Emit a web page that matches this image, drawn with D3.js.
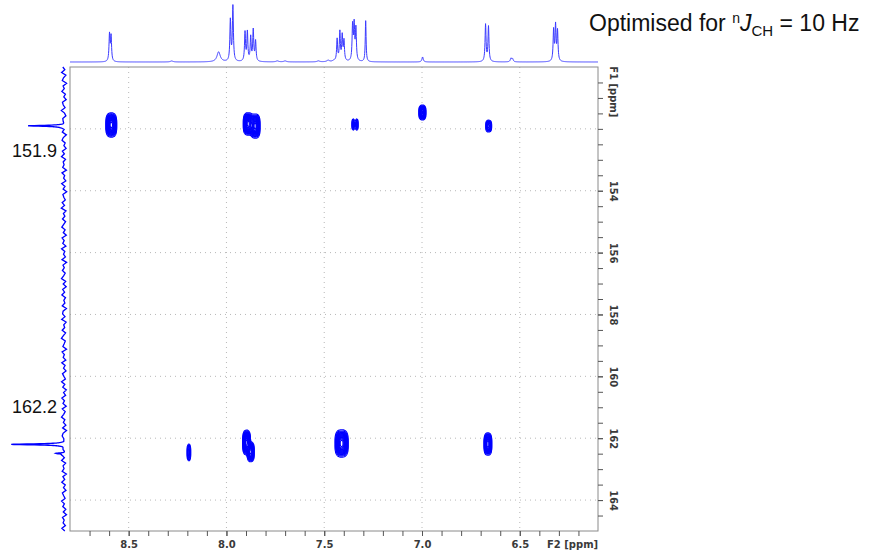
<!DOCTYPE html>
<html lang="en">
<head>
<meta charset="UTF-8">
<title>HMBC 2D spectrum</title>
<script src="https://d3js.org/d3.v7.min.js"></script>
<style>
    body { margin: 0; background: #fff; }
    .frame { fill: none; stroke: #8a8a8a; stroke-width: 1; }
    .grid line { stroke: #b8b8b8; stroke-dasharray: 1,4; }
    .axis text { font-family: "DejaVu Sans", sans-serif; font-size: 10px; font-weight: bold; fill: #3a3a3a; }
    .axis line { stroke: #555; }
    .axis path { display: none; }
    .label { font-family: "Liberation Sans", Arial, sans-serif; fill: #111; }
    .proj { fill: none; stroke: #3a3aff; stroke-width: 1; }
    .proj-f1 { fill: none; stroke: #0000ff; stroke-width: 1.3; }
    .cont { fill: none; stroke: #0000ff; stroke-width: 1.1; }
</style>
</head>
<body>
<svg id="chart" width="872" height="555"></svg>
<script>
    // axis ranges (ppm)
    const f2Range = [8.8, 6.1];
    const f1Range = [150, 165];
    const f2Labels = [8.5, 8.0, 7.5, 7.0, 6.5];
    const f1Labels = [154, 156, 158, 160, 162, 164];
    const f1Grid = [152, 154, 156, 158, 160, 162, 164];

    // 1H projection (top): shift, height, line width
    const hShift  = [8.598, 8.590, 8.28, 8.04, 7.980, 7.967, 7.905, 7.893, 7.876, 7.863, 7.851, 7.74, 7.70, 7.53, 7.48, 7.45,
                     7.434, 7.420, 7.408, 7.399, 7.355, 7.347, 7.338, 7.288, 6.997, 6.675, 6.660, 6.545, 6.537, 6.327, 6.317, 6.307];
    const hHeight = [27, 25, 1, 10, 41, 55, 29, 29, 24, 31, 20, 1, 1, 1, 1.5, 1,
                     22, 29, 25, 20, 35, 35, 32, 41, 5, 37, 35, 3.5, 3, 31, 35, 30];
    const hWidth  = [0.003, 0.003, 0.008, 0.01, 0.003, 0.003, 0.003, 0.003, 0.003, 0.003, 0.003, 0.008, 0.008, 0.008, 0.008, 0.008,
                     0.003, 0.003, 0.003, 0.003, 0.003, 0.003, 0.003, 0.0025, 0.004, 0.003, 0.003, 0.004, 0.004, 0.003, 0.003, 0.003];

    // 13C projection (left)
    const cShift  = [151.90, 162.20, 162.49];
    const cHeight = [35, 51, 9];
    const cNoise  = [1.2,-0.8,2.4,-1.9,0.5,1.7,-2.6,0.9,-0.3,2.1,-1.4,0.2,-2.2,1.5,0.7,-1.1,2.6,-0.6,-2.0,1.0,0.3,-1.7,2.2,-0.9,1.4,-2.5,0.6,1.9,-1.2,0.1,
                     -2.1,1.6,-0.4,2.5,-1.5,0.8,-0.1,1.3,-2.4,2.0,-0.7,0.4,-1.8,2.3,-1.0,0.9,-2.7,1.1,0.2,-1.3,1.8,-0.5,2.7,-2.0,0.6,-0.9,1.5,-1.6,0.3,2.2,
                     -1.1,0.7,-2.3,1.9,-0.2,1.2,-1.9,2.4,-0.8,0.5,-1.4,2.0,-2.6,1.0,-0.3,1.6,-1.2,0.4,2.5,-1.7,0.8,-2.2,1.3,-0.6,2.1,-1.5,0.2,-0.9,1.7,-2.4,
                     0.9,1.4,-1.0,2.3,-2.1,0.3,-0.7,1.8,-1.6,0.6,2.6,-1.3,-0.2,1.1,-2.5,1.9,-0.4,0.8,-1.8,2.2,-1.1,0.5,-2.0,1.5,0.1,-1.4,2.4,-0.8,1.2,-2.3,
                     0.4,-1.6,2.1,-0.5,1.0,-2.2,1.7,-1.2,0.3,2.5,-0.9,0.6,-1.9,1.3,-2.6,0.8,1.6,-0.3,-1.5,2.0,-1.0,0.2,-2.1,1.4,-0.6,2.3,-1.7,0.9,-0.1,1.8,
                     -2.4,1.1,-0.7,2.2,-1.3,0.5,-2.0,1.6,0.3,-1.1,2.4,-0.4,1.2,-1.8,0.7,-2.5,1.5,-0.2,0.9,-1.4,2.1,-0.8];

    // cross peaks: F2, F1 centre, half extent of outer contour, relative intensity
    const cpF2    = [8.589, 7.889, 7.853, 7.351, 7.334, 6.998, 6.659, 8.192, 7.897, 7.876, 7.411, 6.663];
    const cpF1    = [151.875, 151.84, 151.91, 151.86, 151.86, 151.47, 151.91, 162.46, 162.14, 162.44, 162.17, 162.19];
    const cpHalf2 = [0.028, 0.025, 0.025, 0.007, 0.007, 0.018, 0.015, 0.009, 0.020, 0.018, 0.034, 0.020];
    const cpHalf1 = [0.39, 0.36, 0.39, 0.18, 0.18, 0.24, 0.19, 0.27, 0.40, 0.32, 0.44, 0.36];
    const cpAmp   = [1, 1, 1, 0.3, 0.3, 0.8, 0.45, 0.35, 1, 0.8, 1, 0.9];

    const X0 = 70, X1 = 598, Y0 = 67, Y1 = 531;
    const svg = d3.select("#chart");

    const x = d3.scaleLinear().domain(f2Range).range([X0, X1]);
    const y = d3.scaleLinear().domain(f1Range).range([Y0, Y1]);
    const yTop = d3.scaleLinear().domain([0, 55]).range([62, 7]);
    const xLeft = d3.scaleLinear().domain([0, 55]).range([64, 9]);

    // grid
    const grid = svg.append("g").attr("class", "grid");
    grid.selectAll(".gv").data(f2Labels).enter().append("line")
        .attr("x1", d => x(d)).attr("x2", d => x(d)).attr("y1", Y0).attr("y2", Y1);
    grid.selectAll(".gh").data(f1Grid).enter().append("line")
        .attr("x1", X0).attr("x2", X1).attr("y1", d => y(d)).attr("y2", d => y(d));

    // cross peak contours (flat-topped lineshape)
    const nx = X1 - X0, ny = Y1 - Y0;
    const values = new Float64Array(nx * ny);
    const t0 = 0.07, pw = 3;
    cpF2.forEach((c2, k) => {
        const r = Math.pow(2 * Math.log(cpAmp[k] / t0), 1 / pw);
        const s2 = cpHalf2[k] / r, s1 = cpHalf1[k] / r;
        for (let j = 0; j < ny; j++) {
            const d1 = Math.abs((y.invert(Y0 + j + 0.5) - cpF1[k]) / s1);
            if (d1 > 3) continue;
            for (let i = 0; i < nx; i++) {
                const d2 = Math.abs((x.invert(X0 + i + 0.5) - c2) / s2);
                if (d2 > 3) continue;
                values[j * nx + i] += cpAmp[k] * Math.exp(-(Math.pow(d1, pw) + Math.pow(d2, pw)) / 2);
            }
        }
    });
    const contours = d3.contours().size([nx, ny]).thresholds(d3.range(t0, 1.0, 0.06));
    svg.append("g").selectAll("path")
        .data(contours(values))
        .enter().append("path")
        .attr("class", "cont")
        .attr("d", d3.geoPath(d3.geoIdentity().translate([X0, Y0])));

    // top projection
    const hPts = d3.range(f2Range[0], f2Range[1] - 0.0005, -0.001).map(p => {
        let v = 0;
        hShift.forEach((c, k) => { const w = hWidth[k]; v += hHeight[k] * w * w / (w * w + (p - c) * (p - c)); });
        return [p, v];
    });
    svg.append("path").attr("class", "proj")
        .attr("d", d3.line().x(d => x(d[0])).y(d => yTop(d[1]))(hPts));

    // left projection
    const noisePpm = cNoise.map((_, i) => f1Range[0] + i * (f1Range[1] - f1Range[0]) / (cNoise.length - 1));
    const noiseAt = d3.scaleLinear().domain(noisePpm).range(cNoise);
    let cPpm = noisePpm.slice();
    cShift.forEach(c => { cPpm = cPpm.concat(d3.range(c - 0.1, c + 0.1, 0.004)); });
    cPpm.sort((a, b) => a - b);
    const cPts = cPpm.map(p => {
        let v = noiseAt(p);
        cShift.forEach((c, k) => { const w = 0.018; v += cHeight[k] * w * w / (w * w + (p - c) * (p - c)); });
        return [p, v];
    });
    svg.append("path").attr("class", "proj-f1")
        .attr("d", d3.line().x(d => xLeft(d[1])).y(d => y(d[0]))(cPts));

    // frame
    svg.append("rect").attr("class", "frame")
        .attr("x", X0).attr("y", Y0).attr("width", X1 - X0).attr("height", Y1 - Y0);

    // bottom axis
    const xb = svg.append("g").attr("class", "axis").attr("transform", `translate(0,${Y1})`);
    xb.append("g").call(d3.axisBottom(x).tickValues(d3.range(8.7, 6.1, -0.1)).tickSize(5).tickFormat(""));
    xb.append("g").call(d3.axisBottom(x).tickValues(f2Labels).tickSize(5).tickPadding(5).tickFormat(d3.format(".1f")));
    xb.append("text").attr("x", x(6.23)).attr("y", 17).attr("text-anchor", "middle").text("F2 [ppm]");

    // right axis
    const yr = svg.append("g").attr("class", "axis").attr("transform", `translate(${X1},0)`);
    yr.append("g").call(d3.axisRight(y).tickValues(d3.range(150.5, 165, 0.5)).tickSize(5).tickFormat(""));
    yr.append("g").call(d3.axisRight(y).tickValues(f1Labels).tickSize(5).tickFormat(d3.format("d")))
        .selectAll("text")
        .attr("x", 0).attr("dy", "0.35em").attr("text-anchor", "middle")
        .attr("transform", "translate(15,0) rotate(90)");
    yr.append("text").attr("text-anchor", "middle").attr("dy", "0.35em")
        .attr("transform", `translate(15,${y(150.8)}) rotate(90)`).text("F1 [ppm]");

    // peak labels
    svg.append("text").attr("class", "label").attr("x", 57).attr("y", y(151.9) + 31)
        .attr("text-anchor", "end").attr("font-size", 18).text("151.9");
    svg.append("text").attr("class", "label").attr("x", 57).attr("y", y(162.2) - 31)
        .attr("text-anchor", "end").attr("font-size", 18).text("162.2");

    // note
    const note = svg.append("text").attr("class", "label").attr("x", 589).attr("y", 31).attr("font-size", 23);
    note.append("tspan").text("Optimised for ");
    note.append("tspan").attr("font-size", 14).attr("dy", -8).text("n");
    note.append("tspan").attr("font-style", "italic").attr("dy", 8).text("J");
    note.append("tspan").attr("font-size", 15).attr("dy", 5).text("CH");
    note.append("tspan").attr("dy", -5).text(" = 10 Hz");
</script>
</body>
</html>
